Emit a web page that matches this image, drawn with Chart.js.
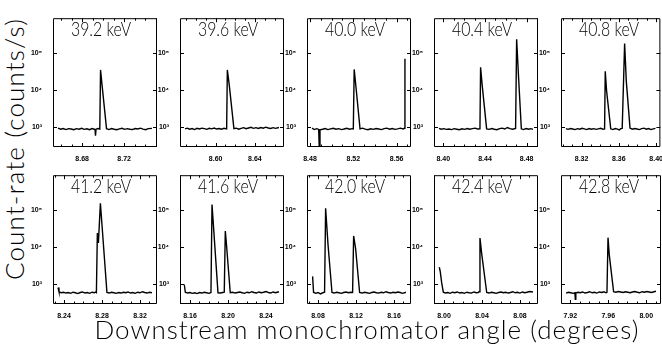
<!DOCTYPE html>
<html>
<head>
<meta charset="utf-8">
<title>Count-rate vs downstream monochromator angle</title>
<script src="https://cdn.jsdelivr.net/npm/chart.js@4.4.1/dist/chart.umd.min.js"></script>
<style>
  body { margin: 0; background: #fff; }
  #fig { position: relative; width: 662px; height: 346px; overflow: hidden;
         font-family: Lato, 'DejaVu Sans', sans-serif; font-weight: 300; color: #000; }
  #fig canvas { position: absolute; }
  .ttl { position: absolute; font-size: 19px; line-height: 1; white-space: nowrap; transform-origin: 0 0; }
  .lab { position: absolute; font-size: 26px; line-height: 1; white-space: nowrap; }
</style>
</head>
<body>
<div id="fig"></div>
<script>
// panel titles (beam energy)
const energies = ['39.2 keV', '39.6 keV', '40.0 keV', '40.4 keV', '40.8 keV',
                  '41.2 keV', '41.6 keV', '42.0 keV', '42.4 keV', '42.8 keV'];

// angle range of each scan (degrees)
const xMin = [8.6522, 8.5637, 8.4772, 8.3911, 8.2979, 8.2284, 8.1495, 8.0684, 7.9895, 7.9102];
const xMax = [8.7513, 8.6696, 8.5733, 8.4909, 8.4046, 8.3379, 8.2590, 8.1779, 8.0990, 8.0155];

const yMin = 300, yMax = 8.5e5;
const yTicks = [1e3, 1e4, 1e5];

// scans: [angle, counts/s]
const scan392 = [[8.6570,960],[8.6595,900],[8.6620,940],[8.6645,880],[8.6670,930],[8.6695,910],[8.6720,870],[8.6745,930],[8.6770,900],[8.6795,950],[8.6820,890],[8.6845,920],[8.6870,870],[8.6895,940],[8.6915,900],[8.6922,910],[8.6927,600],[8.6932,900],[8.6950,940],[8.6968,910],[8.6975,35000],[8.6988,15000],[8.7032,930],[8.7055,880],[8.7080,940],[8.7105,900],[8.7130,870],[8.7155,920],[8.7180,950],[8.7205,890],[8.7230,930],[8.7255,900],[8.7280,880],[8.7305,940],[8.7330,910],[8.7355,960],[8.7380,900],[8.7405,870],[8.7430,930],[8.7465,950]];
const scan396 = [[8.5688,920],[8.5710,960],[8.5735,900],[8.5760,940],[8.5785,880],[8.5810,950],[8.5835,910],[8.5860,960],[8.5885,930],[8.5910,890],[8.5935,950],[8.5960,920],[8.5985,970],[8.6010,910],[8.6035,940],[8.6060,900],[8.6085,950],[8.6112,920],[8.6119,35000],[8.6139,13500],[8.6186,930],[8.6210,960],[8.6235,900],[8.6260,950],[8.6285,990],[8.6310,930],[8.6335,970],[8.6360,1010],[8.6385,950],[8.6410,990],[8.6435,940],[8.6460,1000],[8.6485,960],[8.6510,1020],[8.6535,970],[8.6560,940],[8.6585,990],[8.6610,950],[8.6645,1000]];
const scan400 = [[8.4818,960],[8.4840,880],[8.4862,930],[8.4880,890],[8.4886,250],[8.4892,870],[8.4915,900],[8.4940,940],[8.4965,880],[8.4990,920],[8.5015,950],[8.5040,900],[8.5065,930],[8.5090,880],[8.5115,910],[8.5140,950],[8.5165,900],[8.5190,930],[8.5200,920],[8.5208,36000],[8.5225,11800],[8.5262,920],[8.5285,960],[8.5310,900],[8.5335,870],[8.5360,920],[8.5385,890],[8.5410,940],[8.5435,910],[8.5460,880],[8.5485,930],[8.5510,960],[8.5535,900],[8.5560,940],[8.5585,890],[8.5610,920],[8.5635,960],[8.5660,910],[8.5672,950],[8.5677,70000]];
const scan404 = [[8.3959,950],[8.3980,900],[8.4005,930],[8.4030,890],[8.4055,910],[8.4080,880],[8.4105,930],[8.4130,900],[8.4155,870],[8.4180,920],[8.4205,890],[8.4230,940],[8.4255,900],[8.4280,930],[8.4305,960],[8.4330,910],[8.4352,920],[8.4358,41000],[8.4374,13000],[8.4416,920],[8.4440,890],[8.4465,940],[8.4490,900],[8.4515,870],[8.4540,930],[8.4565,960],[8.4590,910],[8.4615,1000],[8.4640,930],[8.4665,900],[8.4694,940],[8.4704,230000],[8.4723,21000],[8.4749,920],[8.4770,880],[8.4795,940],[8.4820,900],[8.4840,930],[8.4861,890]];
const scan408 = [[8.3032,930],[8.3055,890],[8.3080,940],[8.3105,910],[8.3130,880],[8.3155,930],[8.3180,900],[8.3205,950],[8.3230,920],[8.3255,880],[8.3280,940],[8.3305,900],[8.3330,930],[8.3355,890],[8.3380,920],[8.3405,950],[8.3430,900],[8.3447,920],[8.3454,32000],[8.3468,9800],[8.3513,920],[8.3535,880],[8.3560,940],[8.3585,900],[8.3605,860],[8.3620,930],[8.3636,950],[8.3662,178000],[8.3680,17500],[8.3720,960],[8.3745,900],[8.3770,940],[8.3795,910],[8.3820,880],[8.3845,930],[8.3870,960],[8.3895,900],[8.3920,940],[8.3945,880],[8.3970,920],[8.3993,950]];
const scan412 = [[8.2337,830],[8.2347,640],[8.2370,600],[8.2395,620],[8.2420,590],[8.2445,610],[8.2470,580],[8.2495,620],[8.2520,600],[8.2545,570],[8.2570,610],[8.2595,630],[8.2620,590],[8.2645,610],[8.2670,580],[8.2695,620],[8.2720,600],[8.2735,630],[8.2741,610],[8.2751,24000],[8.2762,13000],[8.2783,150000],[8.2852,610],[8.2875,590],[8.2900,620],[8.2925,600],[8.2950,580],[8.2975,610],[8.3000,590],[8.3025,620],[8.3050,600],[8.3075,630],[8.3100,590],[8.3125,610],[8.3150,580],[8.3175,620],[8.3200,600],[8.3225,640],[8.3250,610],[8.3275,590],[8.3300,620],[8.3326,600]];
const scan416 = [[8.1540,1000],[8.1551,620],[8.1575,590],[8.1600,610],[8.1625,580],[8.1650,600],[8.1675,570],[8.1700,610],[8.1725,590],[8.1750,620],[8.1775,600],[8.1800,580],[8.1821,610],[8.1832,140000],[8.1895,600],[8.1920,590],[8.1945,610],[8.1961,620],[8.1972,27000],[8.1986,10400],[8.2024,600],[8.2050,620],[8.2075,590],[8.2100,610],[8.2125,630],[8.2150,600],[8.2175,580],[8.2200,620],[8.2225,600],[8.2250,640],[8.2275,610],[8.2300,590],[8.2325,630],[8.2350,600],[8.2375,620],[8.2400,650],[8.2425,610],[8.2450,590],[8.2475,630],[8.2500,600],[8.2537,640]];
const scan420 = [[8.0743,1650],[8.0753,620],[8.0775,580],[8.0800,610],[8.0825,560],[8.0850,600],[8.0869,620],[8.0880,110000],[8.0905,12000],[8.0947,610],[8.0970,590],[8.0995,620],[8.1020,600],[8.1045,580],[8.1070,610],[8.1095,630],[8.1120,600],[8.1145,620],[8.1164,610],[8.1175,20000],[8.1196,9100],[8.1238,610],[8.1265,590],[8.1290,620],[8.1315,600],[8.1340,580],[8.1365,610],[8.1390,630],[8.1415,600],[8.1440,590],[8.1465,620],[8.1490,600],[8.1515,640],[8.1540,610],[8.1565,590],[8.1590,620],[8.1615,600],[8.1640,630],[8.1665,610],[8.1690,580],[8.1726,620]];
const scan424 = [[7.9951,2900],[7.9961,2200],[7.9976,1100],[7.9993,620],[8.0015,590],[8.0040,610],[8.0065,580],[8.0090,620],[8.0115,600],[8.0140,630],[8.0165,590],[8.0190,610],[8.0215,580],[8.0240,620],[8.0265,600],[8.0290,590],[8.0315,630],[8.0340,600],[8.0360,610],[8.0369,640],[8.0379,17500],[8.0397,6700],[8.0450,610],[8.0475,590],[8.0500,620],[8.0525,600],[8.0550,580],[8.0575,610],[8.0600,630],[8.0625,600],[8.0650,620],[8.0675,590],[8.0700,610],[8.0725,640],[8.0750,600],[8.0775,620],[8.0800,590],[8.0825,630],[8.0850,600],[8.0875,620],[8.0900,650],[8.0937,630]];
const scan428 = [[7.9155,590],[7.9180,620],[7.9205,600],[7.9230,580],[7.9248,600],[7.9253,400],[7.9258,590],[7.9280,620],[7.9305,600],[7.9330,630],[7.9355,590],[7.9380,610],[7.9405,640],[7.9430,600],[7.9455,620],[7.9480,590],[7.9505,630],[7.9530,610],[7.9555,640],[7.9575,600],[7.9586,620],[7.9597,18000],[7.9610,6300],[7.9656,640],[7.9680,620],[7.9705,650],[7.9730,630],[7.9755,610],[7.9780,640],[7.9805,620],[7.9830,600],[7.9855,630],[7.9880,650],[7.9905,620],[7.9930,600],[7.9955,640],[7.9980,620],[8.0005,650],[8.0030,630],[8.0055,610],[8.0080,640],[8.0102,660]];

const scans = [scan392, scan396, scan400, scan404, scan408, scan412, scan416, scan420, scan424, scan428];

// layout of the 2x5 grid
const lefts = [53, 180, 307, 434, 561];
const tops = [13, 170];
const panelH = 134;
const padL = 22, padB = 14, padT = 2, padR = 2;
const sup = { 3: '\u00b3', 4: '\u2074', 5: '\u2075' };
const tickFont = { family: "'Liberation Sans', Arial, sans-serif", size: 7, weight: 'bold' };

// frame with inward ticks on all four sides, like the original plot
const frameTicks = {
  id: 'frameTicks',
  afterDraw(chart) {
    const { ctx, chartArea: a } = chart;
    const { x, y } = chart.scales;
    ctx.save();
    ctx.strokeStyle = '#000';
    ctx.lineWidth = 1;
    ctx.beginPath();
    ctx.rect(a.left + 0.5, a.top + 0.5, a.width - 1, a.height - 1);
    x.ticks.forEach(t => {
      const px = Math.round(x.getPixelForValue(t.value)) + 0.5;
      const len = t.label ? 4 : 2.5;
      ctx.moveTo(px, a.bottom); ctx.lineTo(px, a.bottom - len);
      ctx.moveTo(px, a.top); ctx.lineTo(px, a.top + len);
    });
    y.ticks.forEach(t => {
      const py = Math.round(y.getPixelForValue(t.value)) + 0.5;
      ctx.moveTo(a.left, py); ctx.lineTo(a.left + 4, py);
      ctx.moveTo(a.right, py); ctx.lineTo(a.right - 4, py);
    });
    ctx.stroke();
    ctx.restore();
  }
};

const fig = document.getElementById('fig');

function fitWidth(el, target) {
  const w = el.getBoundingClientRect().width;
  const n = el.textContent.length;
  el.style.letterSpacing = ((target - w) / n) + 'px';
}

scans.forEach((scan, i) => {
  const col = i % 5, row = Math.floor(i / 5);
  const w = col === 4 ? 100 : 104;
  const cv = document.createElement('canvas');
  cv.width = w + padL + padR;
  cv.height = panelH + padT + padB;
  cv.style.left = (lefts[col] - padL) + 'px';
  cv.style.top = (tops[row] - padT) + 'px';
  fig.appendChild(cv);

  new Chart(cv, {
    type: 'line',
    data: {
      datasets: [{
        data: scan.map(p => ({ x: p[0], y: p[1] })),
        borderColor: '#000',
        borderWidth: 1.4,
        pointRadius: 0,
        tension: 0
      }]
    },
    options: {
      responsive: false,
      animation: false,
      devicePixelRatio: 1,
      layout: { autoPadding: false, padding: { top: padT, right: padR, left: 0, bottom: 0 } },
      plugins: { legend: { display: false }, tooltip: { enabled: false } },
      scales: {
        x: {
          type: 'linear', min: xMin[i], max: xMax[i],
          grid: { display: false }, border: { display: false },
          afterFit: s => { s.height = padB; },
          ticks: {
            stepSize: 0.01, maxTicksLimit: 40, includeBounds: false, autoSkip: false,
            maxRotation: 0, padding: 0, color: '#000', font: tickFont,
            callback: v => Math.round(v * 100) % 4 === 0 ? v.toFixed(2) : ''
          }
        },
        y: {
          type: 'logarithmic', min: yMin, max: yMax,
          grid: { display: false }, border: { display: false },
          afterFit: s => { s.width = padL; },
          afterBuildTicks: s => { s.ticks = yTicks.map(v => ({ value: v })); },
          ticks: {
            padding: 3, color: '#000', font: tickFont,
            callback: v => '10' + sup[Math.round(Math.log10(v))]
          }
        }
      }
    },
    plugins: [frameTicks]
  });

  // title squeezed horizontally to the narrow vector font of the original
  const t = document.createElement('div');
  t.className = 'ttl';
  t.textContent = energies[i];
  fig.appendChild(t);
  const tw = t.getBoundingClientRect().width;
  t.style.transform = 'scaleX(' + (60 / tw) + ')';
  t.style.left = (lefts[col] + 18) + 'px';
  t.style.top = (tops[row] + 6) + 'px';
});

const xl = document.createElement('div');
xl.className = 'lab';
xl.textContent = 'Downstream monochromator angle (degrees)';
fig.appendChild(xl);
fitWidth(xl, 545);
xl.style.left = (367 - 545 / 2) + 'px';
xl.style.top = '316px';

const yl = document.createElement('div');
yl.className = 'lab';
yl.textContent = 'Count-rate (counts/s)';
fig.appendChild(yl);
fitWidth(yl, 262);
yl.style.left = (14 - 131) + 'px';
yl.style.top = (149 - 13) + 'px';
yl.style.transform = 'rotate(-90deg)';
</script>
</body>
</html>
